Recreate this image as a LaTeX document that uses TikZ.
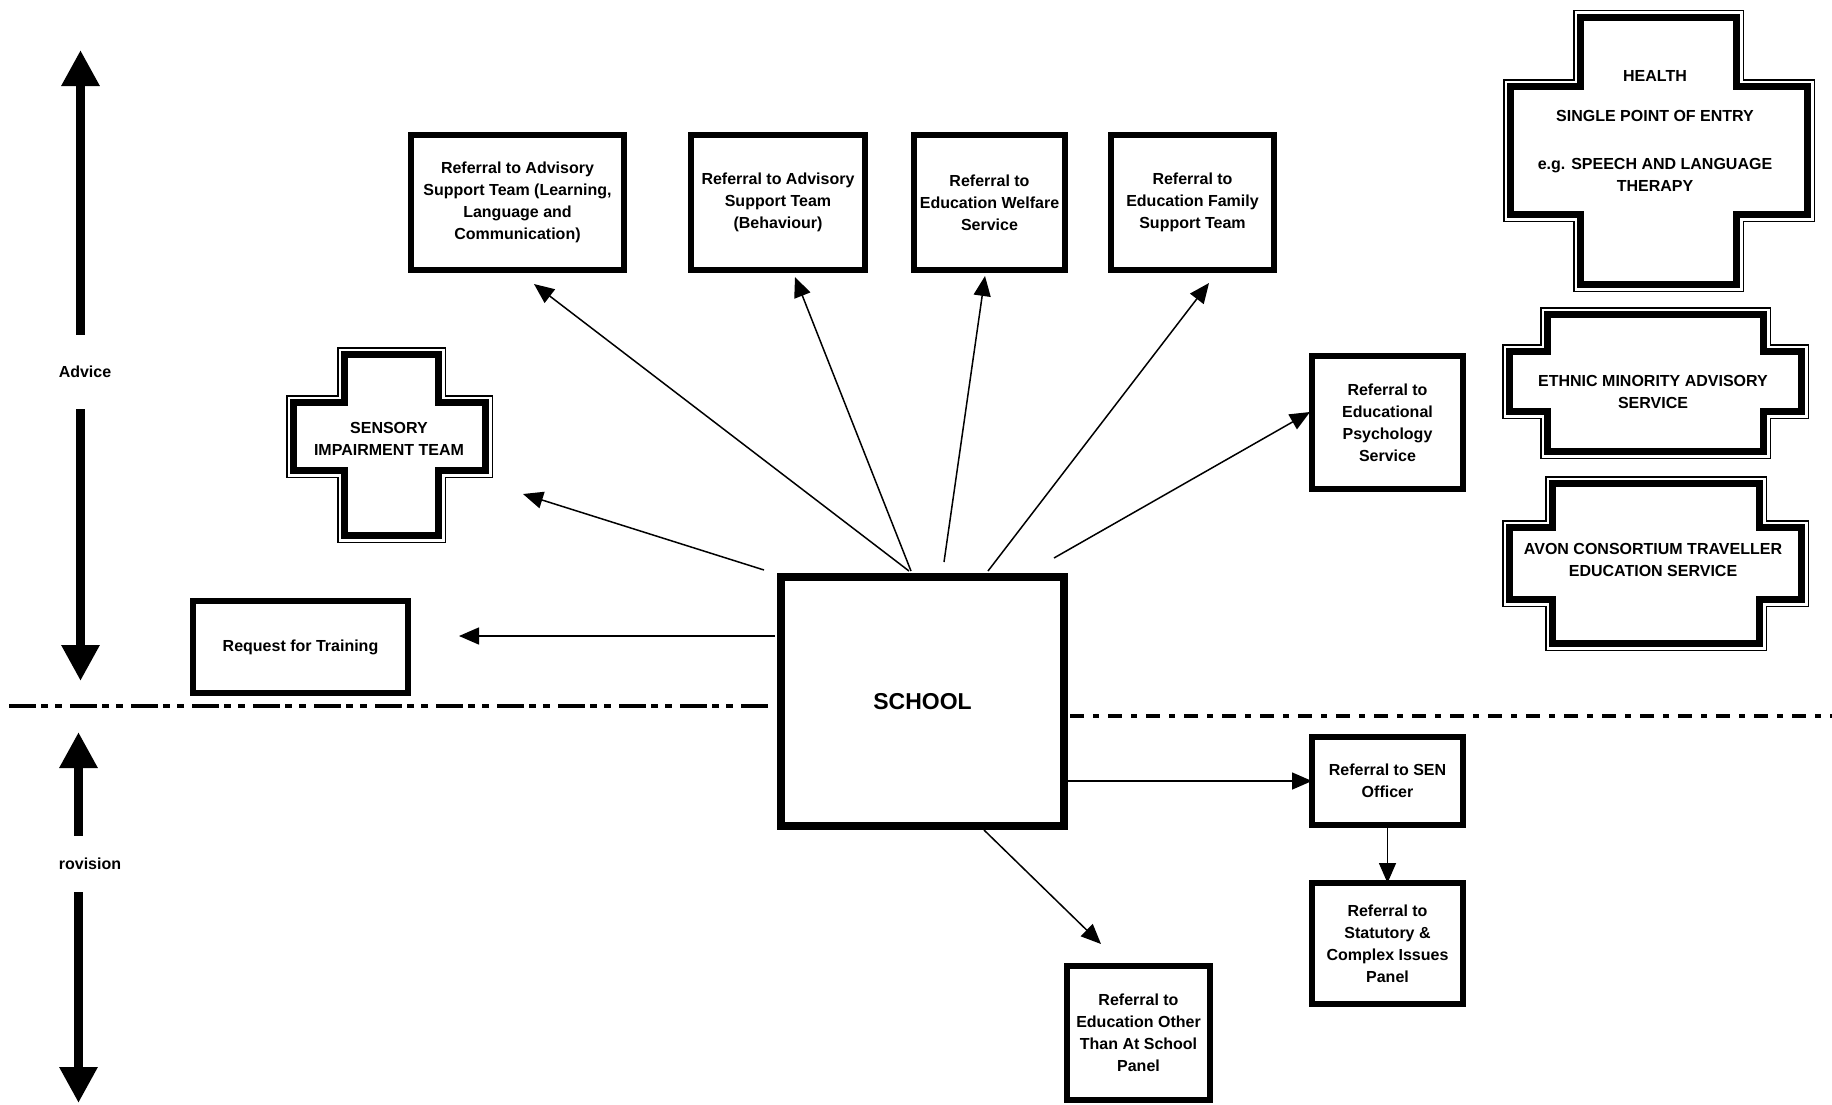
\documentclass[tikz,border=0pt]{standalone}
\usepackage{fontspec}
\setmainfont{Liberation Sans}
\usepackage{tikz}
\usetikzlibrary{arrows.meta,calc}

% outline of a plus shape, pulled in by #1
% #2 left, #3 bar left, #4 bar right, #5 right, #6 top, #7 bar top, #8 bar bottom, #9 bottom
\newcommand{\pluspath}[9]{({#3+#1},{#6+#1}) -- ({#4-#1},{#6+#1}) -- ({#4-#1},{#7+#1}) -- ({#5-#1},{#7+#1})
  -- ({#5-#1},{#8-#1}) -- ({#4-#1},{#8-#1}) -- ({#4-#1},{#9-#1}) -- ({#3+#1},{#9-#1})
  -- ({#3+#1},{#8-#1}) -- ({#2+#1},{#8-#1}) -- ({#2+#1},{#7+#1}) -- ({#3+#1},{#7+#1}) -- cycle}

\begin{document}
\begin{tikzpicture}[x=1pt,y=-1pt,>={Triangle[length=20pt,width=17pt]},
  arrow line/.style={line width=1.5pt,->},
  big arrow/.style={line width=9pt,-{Triangle[length=36pt,width=36pt]}},
  ref node/.style={draw,line width=6pt,outer sep=0pt,inner sep=0pt,align=center,
    font=\fontsize{16}{22}\selectfont\bfseries},
  school node/.style={draw,line width=8pt,outer sep=0pt,minimum width=283pt,minimum height=249pt,
    font=\fontsize{23}{28}\selectfont\bfseries},
  cross node/.style={align=center,inner sep=0pt,font=\fontsize{16}{22}\selectfont\bfseries},
  side node/.style={inner sep=0pt,font=\fontsize{16}{20}\selectfont\bfseries},
  cross thin/.style={line width=1.5pt},
  cross thick/.style={line width=7pt},
  sep line/.style={line width=4pt,dash pattern=on 27pt off 5pt on 7pt off 7pt on 7pt off 8pt},
  sep line right/.style={line width=4pt,dash pattern=on 14pt off 9pt on 6pt off 9pt}]
  \useasboundingbox (0,0) rectangle (1832,1104);

  \node[school node] (school) at (922.5,701.5) {SCHOOL};

  \node[ref node,minimum width=213pt,minimum height=135pt] (llc) at (517.5,202.5)
    {Referral to Advisory\\Support Team (Learning,\\Language and\\Communication)};
  \node[ref node,minimum width=174pt,minimum height=135pt] (beh) at (778,202.5)
    {Referral to Advisory\\Support Team\\(Behaviour)};
  \node[ref node,minimum width=151pt,minimum height=135pt] (ews) at (989.5,202.5)
    {Referral to\\Education Welfare\\Service};
  \node[ref node,minimum width=163pt,minimum height=135pt] (efst) at (1192.5,202.5)
    {Referral to\\Education Family\\Support Team};
  \node[ref node,minimum width=151pt,minimum height=133pt] (eps) at (1387.5,422.5)
    {Referral to\\Educational\\Psychology\\Service};
  \node[ref node,minimum width=151pt,minimum height=88pt] (sen) at (1387.5,781)
    {Referral to SEN\\Officer};
  \node[ref node,minimum width=151pt,minimum height=121pt] (scip) at (1387.5,943.5)
    {Referral to\\Statutory \&\\Complex Issues\\Panel};
  \node[ref node,minimum width=143pt,minimum height=134pt] (eotas) at (1138.5,1033)
    {Referral to\\Education Other\\Than At School\\Panel};
  \node[ref node,minimum width=215pt,minimum height=92pt] (train) at (300.5,647)
    {Request for Training};

  % plus shaped services
  \draw[cross thin] \pluspath{0.75}{1503}{1573}{1744}{1815}{9.5}{79}{222}{292};
  \draw[cross thick] \pluspath{7.5}{1503}{1573}{1744}{1815}{9.5}{79}{222}{292};
  \draw[cross thin] \pluspath{0.75}{1502}{1540}{1771}{1809}{307}{344}{419}{459};
  \draw[cross thick] \pluspath{7.5}{1502}{1540}{1771}{1809}{307}{344}{419}{459};
  \draw[cross thin] \pluspath{0.75}{1502}{1545}{1767}{1809}{476}{520}{607}{651};
  \draw[cross thick] \pluspath{7.5}{1502}{1545}{1767}{1809}{476}{520}{607}{651};
  \draw[cross thin] \pluspath{0.75}{286}{337}{446}{493}{347}{395}{478}{543};
  \draw[cross thick] \pluspath{7.5}{286}{337}{446}{493}{347}{395}{478}{543};

  \node[cross node] (health) at (1655,131)
    {HEALTH\\[18pt]SINGLE POINT OF ENTRY\\[26pt]e.g. SPEECH AND LANGUAGE\\THERAPY};
  \node[cross node] (emas) at (1653,392) {ETHNIC MINORITY ADVISORY\\SERVICE};
  \node[cross node] (acts) at (1653,560) {AVON CONSORTIUM TRAVELLER\\EDUCATION SERVICE};
  \node[cross node] (sit) at (389,439) {SENSORY\\IMPAIRMENT TEAM};

  % advice / provision axis
  \node[side node,minimum height=74pt] (advice) at (85,372) {Advice};
  \node[side node,minimum height=56pt] (prov) at (90,864) {rovision};
  \coordinate (advtop) at (80.5,50);
  \coordinate (advbot) at (80.5,681);
  \coordinate (provtop) at (78.5,732);
  \coordinate (provbot) at (78.5,1103);
  \draw[big arrow] (advice.north -| advtop) -- (advtop);
  \draw[big arrow] (advice.south -| advbot) -- (advbot);
  \draw[big arrow] (prov.north -| provtop) -- (provtop);
  \draw[big arrow] (prov.south -| provbot) -- (provbot);

  \coordinate (sepleft) at (9,706);
  \coordinate (sepright) at (1832,716);
  \draw[sep line] (sepleft) -- ($(sepleft -| school.west)+(-10,0)$);
  \draw[sep line right] ($(sepright -| school.east)+(6,0)$) -- (sepright);

  \path[arrow line]
    ($(school.north)+(-13.5,-6)$) edge ($(llc.south)+(16.5,14)$)
    ($(school.north)+(-11.5,-6)$) edge ($(beh.south)+(17,7)$)
    ($(school.north)+(21.5,-15)$) edge ($(ews.south)+(-4.5,6)$)
    ($(school.north)+(65.5,-6)$) edge ($(efst.south)+(16.5,13)$)
    ($(school.north)+(131.5,-19)$) edge ($(eps.west)+(-2,-10.5)$)
    ($(school.north west)+(-17,-7)$) edge ($(sit)+(134,55)$)
    ($(school.west)+(-6,-65.5)$) edge ($(train.east)+(51,-11)$)
    (school.east |- sen.west) edge (sen.west)
    (sen) edge (scip)
    ($(school.south)+(61.5,4)$) edge ($(eotas.north)+(-37.5,-22)$);
\end{tikzpicture}
\end{document}
